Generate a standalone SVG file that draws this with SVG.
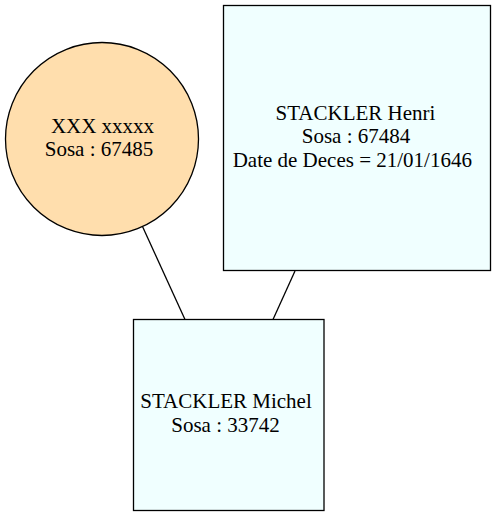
<svg xmlns="http://www.w3.org/2000/svg" width="496" height="516" viewBox="0 0 496 516">
<style>
.t{font-family:"Liberation Serif","Times New Roman",serif;font-size:21px;fill:#000;text-anchor:middle}
.n{stroke:#000;stroke-width:1.3}
.e{stroke:#000;stroke-width:1.3;fill:none}
</style>
<rect width="496" height="516" fill="#fff"/>
<g id="edges">
<line class="e" x1="142.5" y1="226.5" x2="185" y2="319.5"/>
<line class="e" x1="295" y1="271" x2="273" y2="319.5"/>
</g>
<g id="n67485">
<circle class="n" cx="102" cy="139" r="96.5" fill="#ffdead"/>
<text class="t" x="102.5" y="132.5">XXX xxxxx</text>
<text class="t" x="99" y="156">Sosa : 67485</text>
</g>
<g id="n67484">
<rect class="n" x="223.5" y="5.5" width="267" height="265" fill="#f0ffff"/>
<text class="t" x="355.5" y="120">STACKLER Henri</text>
<text class="t" x="356" y="143.3">Sosa : 67484</text>
<text class="t" x="352.3" y="166.7">Date de Deces = 21/01/1646</text>
</g>
<g id="n33742">
<rect class="n" x="133.5" y="319.5" width="190.5" height="191" fill="#f0ffff"/>
<text class="t" x="226" y="408">STACKLER Michel</text>
<text class="t" x="225.5" y="432">Sosa : 33742</text>
</g>
</svg>
